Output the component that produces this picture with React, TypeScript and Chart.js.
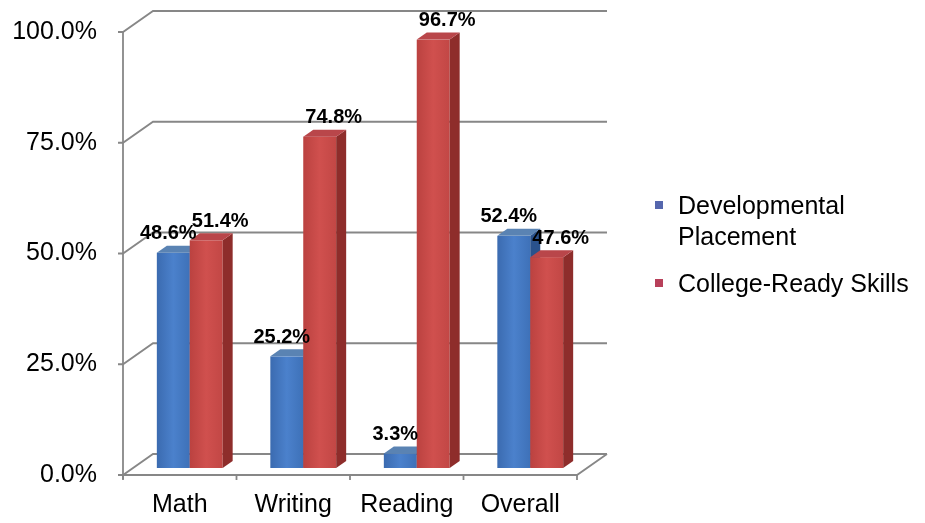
import { useEffect, useRef } from "react";
import { Chart, registerables } from "chart.js";

Chart.register(...registerables);

// ---- data ----
const categories = ["Math", "Writing", "Reading", "Overall"];
const developmentalPlacement = [48.6, 25.2, 3.3, 52.4];
const collegeReadySkills = [51.4, 74.8, 96.7, 47.6];
const seriesNames = ["Developmental Placement", "College-Ready Skills"];
const yTickValues = [0, 25, 50, 75, 100];

// ---- styling ----
const FONT = "'Liberation Sans', Arial, sans-serif";
const AXIS_GRAY = "#878787";

const PALETTE = [
  { front: ["#3b6bb0", "#4b81cc", "#3e71b8"], side: "#2a528c", top: "#5a83b3", legend: "#5566ad" },
  { front: ["#bb4240", "#d0504e", "#c24745"], side: "#8e2d2b", top: "#b9464a", legend: "#b8405a" },
];

// oblique projection of the depth axis
const WALL_DX = 30;
const WALL_DY = 21;
// bars sit a third of the way into the floor and are a third deep
const BAR_SHIFT = 1 / 3;
const BAR_DEPTH = 1 / 3;

const pct = (v: number) => `${v.toFixed(1)}%`;

const box3dPlugin = {
  id: "box3d",
  beforeDatasetsDraw(chart: any) {
    const { ctx, chartArea } = chart;
    const { left, right, bottom } = chartArea;
    const yScale = chart.scales.y;
    const xScale = chart.scales.x;

    ctx.save();
    ctx.strokeStyle = AXIS_GRAY;
    ctx.lineWidth = 1.8;
    ctx.lineCap = "butt";

    // back-wall gridlines with their diagonal returns and small ticks
    yTickValues.forEach((v) => {
      const y = yScale.getPixelForValue(v);
      ctx.beginPath();
      ctx.moveTo(left - 5, y);
      ctx.lineTo(left, y);
      ctx.lineTo(left + WALL_DX, y - WALL_DY);
      ctx.lineTo(right + WALL_DX, y - WALL_DY);
      ctx.stroke();
    });

    // floor front and right edges
    ctx.beginPath();
    ctx.moveTo(left, bottom);
    ctx.lineTo(right, bottom);
    ctx.lineTo(right + WALL_DX, bottom - WALL_DY);
    ctx.stroke();

    // front value axis
    ctx.beginPath();
    ctx.moveTo(left, yScale.getPixelForValue(100));
    ctx.lineTo(left, bottom + 4);
    ctx.stroke();

    // category boundary ticks
    const n = categories.length;
    const step = (right - left) / n;
    for (let i = 0; i <= n; i++) {
      const x = i === n ? right : xScale.getPixelForValue(i) - step / 2;
      ctx.beginPath();
      ctx.moveTo(x, bottom);
      ctx.lineTo(x, bottom + 5);
      ctx.stroke();
    }

    // bars: per category, series in order so later fronts hide earlier sides
    const sx = WALL_DX * BAR_SHIFT;
    const sy = WALL_DY * BAR_SHIFT;
    const dx = WALL_DX * BAR_DEPTH;
    const dy = WALL_DY * BAR_DEPTH;
    const metas = chart.data.datasets.map((_: any, i: number) => chart.getDatasetMeta(i));

    for (let c = 0; c < n; c++) {
      metas.forEach((meta: any, s: number) => {
        const el = meta.data[c];
        const { x, y, base, width } = el.getProps(["x", "y", "base", "width"], true);
        const x0 = x - width / 2 + sx;
        const x1 = x + width / 2 + sx;
        const yt = y - sy;
        const yb = base - sy;
        const pal = PALETTE[s];

        const g = ctx.createLinearGradient(x0, 0, x1, 0);
        g.addColorStop(0, pal.front[0]);
        g.addColorStop(0.5, pal.front[1]);
        g.addColorStop(1, pal.front[2]);
        ctx.fillStyle = g;
        ctx.fillRect(x0, yt, x1 - x0, yb - yt);

        // side face
        ctx.fillStyle = pal.side;
        ctx.beginPath();
        ctx.moveTo(x1, yt);
        ctx.lineTo(x1 + dx, yt - dy);
        ctx.lineTo(x1 + dx, yb - dy);
        ctx.lineTo(x1, yb);
        ctx.closePath();
        ctx.fill();

        // top face
        ctx.fillStyle = pal.top;
        ctx.beginPath();
        ctx.moveTo(x0, yt);
        ctx.lineTo(x0 + dx, yt - dy);
        ctx.lineTo(x1 + dx, yt - dy);
        ctx.lineTo(x1, yt);
        ctx.closePath();
        ctx.fill();
      });
    }

    // value labels above each bar
    ctx.fillStyle = "#000";
    ctx.font = `bold 20px ${FONT}`;
    ctx.textAlign = "center";
    ctx.textBaseline = "middle";
    metas.forEach((meta: any, s: number) => {
      const values = chart.data.datasets[s].data as number[];
      meta.data.forEach((el: any, i: number) => {
        const { x, y } = el.getProps(["x", "y"], true);
        const lx = x + sx + (s === 0 ? -5 : 14);
        const ly = y - sy - 19;
        ctx.fillText(pct(values[i]), lx, ly);
      });
    });

    ctx.restore();
    return false;
  },
};

const sideLegendPlugin = {
  id: "sideLegend",
  afterDraw(chart: any) {
    const { ctx } = chart;
    const markerX = 655;
    const textX = 678;
    const maxWidth = 240;
    const lineGap = 31;
    const itemGap = 47;
    let baseline = 214;

    ctx.save();
    ctx.font = `25px ${FONT}`;
    ctx.textAlign = "left";
    ctx.textBaseline = "alphabetic";

    chart.data.datasets.forEach((ds: any, s: number) => {
      // simple word wrap
      const words = String(ds.label).split(" ");
      const lines: string[] = [];
      let cur = "";
      words.forEach((w) => {
        const t = cur ? `${cur} ${w}` : w;
        if (cur && ctx.measureText(t).width > maxWidth) {
          lines.push(cur);
          cur = w;
        } else {
          cur = t;
        }
      });
      if (cur) lines.push(cur);

      ctx.fillStyle = PALETTE[s].legend;
      ctx.fillRect(markerX, baseline - 13, 8, 8);

      ctx.fillStyle = "#000";
      lines.forEach((line, i) => {
        ctx.fillText(line, textX, baseline + i * lineGap);
      });
      baseline += (lines.length - 1) * lineGap + itemGap;
    });
    ctx.restore();
  },
};

export default function App() {
  const ref = useRef<HTMLCanvasElement>(null);

  useEffect(() => {
    const canvas = ref.current;
    if (!canvas) return;
    const chart = new Chart(canvas, {
      type: "bar",
      data: {
        labels: categories,
        datasets: [
          { label: seriesNames[0], data: developmentalPlacement, backgroundColor: PALETTE[0].front[1] },
          { label: seriesNames[1], data: collegeReadySkills, backgroundColor: PALETTE[1].front[1] },
        ],
      },
      options: {
        responsive: false,
        animation: false,
        devicePixelRatio: 1,
        layout: { padding: { top: 32, right: 348, left: 0, bottom: 0 } },
        datasets: { bar: { categoryPercentage: 0.58, barPercentage: 1 } },
        plugins: {
          legend: { display: false },
          tooltip: { enabled: false },
        },
        scales: {
          x: {
            grid: { display: false, drawTicks: false },
            border: { display: false },
            ticks: { color: "#000", font: { family: FONT, size: 25 }, padding: 15 },
            afterFit: (s: any) => {
              s.height = 48;
              s.paddingLeft = 0;
              s.paddingRight = 0;
            },
          },
          y: {
            min: 0,
            max: 100,
            grid: { display: false, drawTicks: false },
            border: { display: false },
            afterBuildTicks: (s: any) => {
              s.ticks = yTickValues.map((value) => ({ value }));
            },
            ticks: {
              color: "#000",
              font: { family: FONT, size: 25 },
              padding: 26,
              callback: (v: any) => pct(Number(v)),
            },
            afterFit: (s: any) => {
              s.width = 123;
              s.paddingTop = 0;
              s.paddingBottom = 0;
            },
          },
        },
      } as any,
      plugins: [box3dPlugin, sideLegendPlugin],
    });
    return () => chart.destroy();
  }, []);

  return (
    <canvas
      ref={ref}
      width={925}
      height={523}
      style={{ position: "fixed", left: 0, top: 0, display: "block", background: "#fff" }}
    />
  );
}
